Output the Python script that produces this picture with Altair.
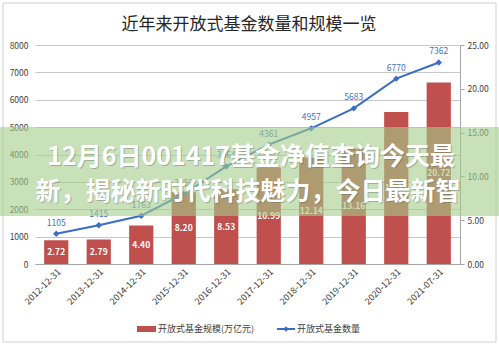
import altair as alt
import pandas as pd

dates = ["2012-12-31", "2013-12-31", "2014-12-31", "2015-12-31", "2016-12-31",
         "2017-12-31", "2018-12-31", "2019-12-31", "2020-12-31", "2021-07-31"]
scale_vals = [2.72, 2.79, 4.40, 8.20, 8.53, 10.99, 12.14, 13.16, 17.35, 20.72]
count_vals = [1105, 1415, 1763, 2558, 3564, 4361, 4957, 5683, 6770, 7362]

title_text = "近年来开放式基金数量和规模一览"
legend_bar = "开放式基金规模(万亿元)"
legend_line = "开放式基金数量"
overlay_line1 = "12月6日001417基金净值查询今天最"
overlay_line2 = "新，揭秘新时代科技魅力，今日最新智"

df = pd.DataFrame({"date": dates, "scale": scale_vals, "count": count_vals})
one = pd.DataFrame({"a": [0]})

FONT = "Noto Sans CJK SC"
BAR_COLOR = "#c0504d"
LINE_COLOR = "#3c6dc5"

xenc = alt.X("date:N", sort=None, title=None,
             scale=alt.Scale(paddingInner=0.43, paddingOuter=0.215),
             axis=alt.Axis(labelAngle=-45, labelFontSize=9, labelColor="#404040",
                           domainColor="#a6a6a6", ticks=False, labelPadding=3,
                           labelFont=FONT))

base = alt.Chart(df).encode(x=xenc)

right_axis = alt.Axis(orient="right", values=[0, 5, 10, 15, 20, 25], format=".2f",
                      grid=False, domain=True, domainColor="#a6a6a6",
                      tickColor="#a6a6a6", tickSize=4, labelPadding=3,
                      labelFontSize=8.5, labelColor="#404040", labelFont=FONT,
                      labelOverlap=False, title=None)
right_scale = alt.Scale(domain=[0, 25], nice=False)

bars = base.mark_bar(color=BAR_COLOR).encode(
    y=alt.Y("scale:Q", title=None, scale=right_scale, axis=right_axis)
)
bar_text = base.transform_calculate(mid="datum.scale / 2").mark_text(
    color="white", fontSize=8.5, fontWeight="bold", font=FONT
).encode(
    y=alt.Y("mid:Q", title=None, scale=right_scale, axis=right_axis),
    text=alt.Text("scale:Q", format=".2f"),
)
right = alt.layer(bars, bar_text)

left_axis = alt.Axis(orient="left", values=list(range(0, 8001, 1000)), format="d",
                     grid=True, gridColor="#c8c8c8", domain=False, ticks=False,
                     labelPadding=7, labelFontSize=8.5, labelColor="#404040",
                     labelFont=FONT, labelOverlap=False, title=None)
left_scale = alt.Scale(domain=[0, 8000], nice=False)

line = base.mark_line(color=LINE_COLOR, strokeWidth=2).encode(
    y=alt.Y("count:Q", title=None, scale=left_scale, axis=left_axis)
)
points = base.mark_point(shape="diamond", size=40, filled=True, color=LINE_COLOR,
                         opacity=1).encode(
    y=alt.Y("count:Q", title=None, scale=left_scale, axis=left_axis))
line_text = base.mark_text(color="#4472c4", fontSize=8.5, baseline="bottom", dy=-6,
                           font=FONT).encode(
    y=alt.Y("count:Q", title=None, scale=left_scale, axis=left_axis),
    text="count:Q")
left = alt.layer(line, points, line_text)

main = alt.layer(right, left).resolve_scale(y="independent")

deco = alt.Chart(one)

title = deco.mark_text(fontSize=17, color="#262626", font=FONT).encode(
    x=alt.value(214), y=alt.value(-20), text=alt.value(title_text))

# legend
leg_rect = deco.mark_rect(color=BAR_COLOR).encode(
    x=alt.value(102), x2=alt.value(121), y=alt.value(281), y2=alt.value(287))
leg_t1 = deco.mark_text(fontSize=9, align="left", color="#404040", font=FONT).encode(
    x=alt.value(123), y=alt.value(284), text=alt.value(legend_bar))
leg_rule = deco.mark_rule(color=LINE_COLOR, strokeWidth=2).encode(
    x=alt.value(242), x2=alt.value(260), y=alt.value(284))
leg_pt = deco.mark_point(shape="diamond", size=30, filled=True, color=LINE_COLOR,
                         opacity=1).encode(x=alt.value(251), y=alt.value(284))
leg_t2 = deco.mark_text(fontSize=9, align="left", color="#404040", font=FONT).encode(
    x=alt.value(262), y=alt.value(284), text=alt.value(legend_line))

frame = deco.mark_rect(fill=None, stroke="#d0d0d0", strokeWidth=1).encode(
    x=alt.value(-32), x2=alt.value(461), y=alt.value(-42), y2=alt.value(297))

# overlay banner
band = deco.mark_rect(color="rgb(163,205,138)", opacity=0.6).encode(
    x=alt.value(-35), x2=alt.value(464), y=alt.value(82), y2=alt.value(171))
sh1 = deco.mark_text(fontSize=25, fontWeight="bold", color="#555555", opacity=0.35,
                     font=FONT).encode(x=alt.value(217), y=alt.value(113),
                                       text=alt.value(overlay_line1))
sh2 = deco.mark_text(fontSize=25, fontWeight="bold", color="#555555", opacity=0.35,
                     font=FONT).encode(x=alt.value(214), y=alt.value(148),
                                       text=alt.value(overlay_line2))
ov1 = deco.mark_text(fontSize=25, fontWeight="bold", color="white", font=FONT).encode(
    x=alt.value(216), y=alt.value(112), text=alt.value(overlay_line1))
ov2 = deco.mark_text(fontSize=25, fontWeight="bold", color="white", font=FONT).encode(
    x=alt.value(213), y=alt.value(147), text=alt.value(overlay_line2))

chart = alt.layer(
    main, title, leg_rect, leg_t1, leg_rule, leg_pt, leg_t2, frame,
    band, sh1, sh2, ov1, ov2
).properties(
    width=425, height=219,
    autosize=alt.AutoSizeParams(type="none"),
    padding={"left": 35, "top": 45, "right": 39, "bottom": 81},
    background="white",
).configure_view(stroke=None)

chart.save("out.html", embed_options={"renderer": "svg", "actions": False})
